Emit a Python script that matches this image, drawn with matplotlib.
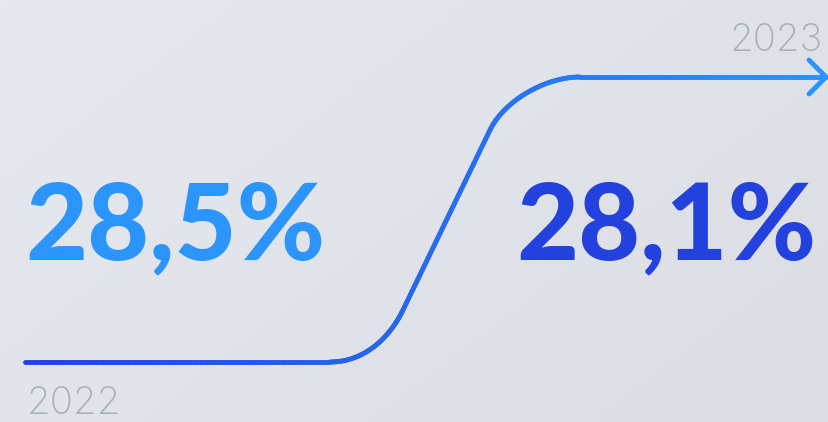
import numpy as np
import matplotlib.pyplot as plt
from matplotlib.path import Path
from matplotlib.collections import LineCollection
from matplotlib.colors import LinearSegmentedColormap

# values shown on the chart
years = ["2022", "2023"]
values = ["28,5%", "28,1%"]
value_colors = ["#2b95fb", "#2341dc"]

# path anchors (pixel space of the canvas): start, curve, end
path_verts = [(25, 362), (330, 362),
              (365, 362), (390, 337), (403, 310),
              (490, 130),
              (504, 101), (545, 77), (580, 77),
              (826, 77)]
path_codes = [Path.MOVETO, Path.LINETO,
              Path.CURVE4, Path.CURVE4, Path.CURVE4,
              Path.LINETO,
              Path.CURVE4, Path.CURVE4, Path.CURVE4,
              Path.LINETO]
arrow_x = [809, 826, 809]
arrow_y = [60, 77, 94]

W, H = 829, 422
fig = plt.figure(figsize=(W / 100, H / 100), dpi=100)
ax = fig.add_axes([0, 0, 1, 1])
ax.set_xlim(0, W)
ax.set_ylim(H, 0)
ax.axis("off")

# background gradient
gx, gy = np.meshgrid(np.linspace(0, 1, 200), np.linspace(0, 1, 100))
g = (gx * 0.6 + gy * 0.4)
bg = LinearSegmentedColormap.from_list("bg", ["#e6e9f0", "#dbdde3"])
ax.imshow(g, cmap=bg, extent=[0, W, H, 0], aspect="auto", zorder=0)

# line with horizontal colour gradient
line_cmap = LinearSegmentedColormap.from_list("ln", ["#2341dc", "#2a93ff"])
path = Path(path_verts, path_codes)
pts = []
for seg, code in path.iter_bezier():
    t = np.linspace(0, 1, 60)
    pts.append(seg(t))
pts = np.vstack(pts)
segs = np.stack([pts[:-1], pts[1:]], axis=1)
lc = LineCollection(segs, cmap=line_cmap, linewidths=3.5, capstyle="round",
                    joinstyle="round", zorder=2)
lc.set_array((segs[:, 0, 0] + segs[:, 1, 0]) / 2)
lc.set_clim(25, 826)
ax.add_collection(lc)
ax.plot(arrow_x, arrow_y, color=line_cmap(1.0), lw=3.5,
        solid_capstyle="round", solid_joinstyle="round", zorder=2)

# big values
big = dict(fontsize=77, fontfamily=["Lato", "DejaVu Sans"], fontweight="black",
           va="baseline", zorder=3)
ax.text(25, 259, values[0], color=value_colors[0], ha="left", **big)
ax.text(816, 259, values[1], color=value_colors[1], ha="right", **big)

# year labels
small = dict(fontsize=27.5, fontfamily=["Inter", "DejaVu Sans"], fontweight="light",
             color="#a4b0bc", va="baseline", zorder=3)
ax.text(27, 414, years[0], ha="left", **small)
ax.text(823, 51, years[1], ha="right", **small)

fig.savefig("out.png", dpi=100)
